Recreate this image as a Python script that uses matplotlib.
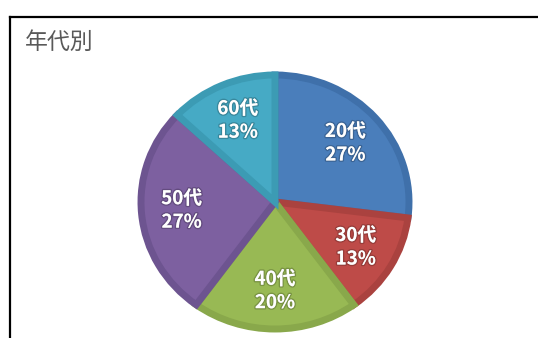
import matplotlib
matplotlib.use("Agg")
import matplotlib.pyplot as plt
import matplotlib.patheffects as pe
from matplotlib.lines import Line2D
import numpy as np

plt.rcParams['font.family'] = ['Noto Sans CJK JP', 'DejaVu Sans']

# 年代別の割合 (%)
ages = ["20代", "30代", "40代", "50代", "60代"]
shares = [27, 13, 20, 27, 13]

fills = ["#4A7EBB", "#BE4B48", "#98B954", "#7D60A0", "#46AAC5"]
edges = ["#3F70AA", "#AA423F", "#89A84B", "#6D5490", "#3C9BB4"]

W, H = 538, 338
fig = plt.figure(figsize=(W / 100, H / 100), dpi=100)

# 楕円ぎみの円グラフ: 横半径134px, 縦半径127px, 中心(275, 202)
cx, cy, rx, ry = 275, 202, 134, 127
ax = fig.add_axes([(cx - rx) / W, (H - cy - ry) / H, 2 * rx / W, 2 * ry / H])

wedges, _ = ax.pie(shares, colors=fills, startangle=90, counterclock=False,
                   radius=1.0, wedgeprops=dict(linewidth=0))
ax.set_aspect('auto')
ax.set_xlim(-1, 1)
ax.set_ylim(-1, 1)

# 各扇形の内側に濃い縁取り
for w, ec in zip(wedges, edges):
    w.set_edgecolor(ec)
    w.set_linewidth(5)
    w.set_clip_path(w)

# ラベル
for w, name, v in zip(wedges, ages, shares):
    mid = np.deg2rad((w.theta1 + w.theta2) / 2)
    r = 0.7
    ax.text(r * np.cos(mid), r * np.sin(mid), f"{name}\n{v}%",
            ha='center', va='center', color='white', fontsize=13.5,
            fontweight='bold', linespacing=1.3,
            path_effects=[pe.withStroke(linewidth=2, foreground=(0, 0, 0, 0.2))])

fig.text(25 / W, 1 - 42 / H, "年代別", fontsize=16.5, color='#595959',
         ha='left', va='center')

# 外枠 (上と左のみ見える)
fig.add_artist(Line2D([9.5 / W, 1.0], [1 - 16.5 / H, 1 - 16.5 / H],
                      color='black', linewidth=1.6, transform=fig.transFigure))
fig.add_artist(Line2D([9.5 / W, 9.5 / W], [0, 1 - 16.5 / H],
                      color='black', linewidth=1.6, transform=fig.transFigure))

fig.savefig("out.png", dpi=100)
